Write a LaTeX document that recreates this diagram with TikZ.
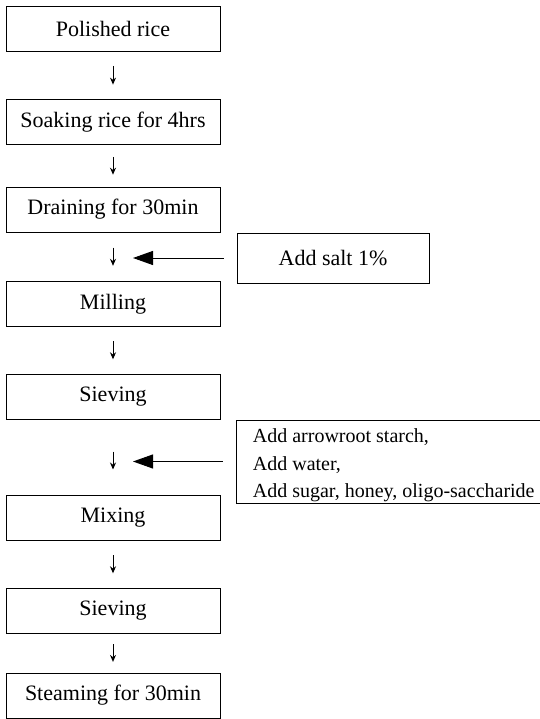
\documentclass[tikz,border=0pt]{standalone}
\usepackage{fontspec}
\setmainfont{Liberation Serif}
\usetikzlibrary{positioning,arrows.meta}

\begin{document}
\begin{tikzpicture}[
  proc/.style={rectangle, draw, line width=0.5pt, minimum width=107pt, minimum height=22.5pt, inner sep=0pt, align=center},
  addbox/.style={rectangle, draw, line width=0.5pt, anchor=north west, inner sep=0pt},
  down/.style={-{Stealth[length=3.5pt,width=3pt]}, line width=0.5pt, shorten <=#1, shorten >=#1},
  down/.default=7.2pt,
  feed/.style={-{Triangle[length=10pt,width=7pt]}, line width=0.5pt, shorten <=6.5pt},
  font=\fontsize{11}{13.75}\selectfont
]
\clip (0,0) rectangle (270pt,-359.5pt);

\node[proc] (rice) at (56.5pt,-14.25pt) {Polished rice};
\node[proc, below of=rice, node distance=46.75pt] (soak) {Soaking rice for 4hrs};
\node[proc, below of=soak, node distance=43.75pt] (drain) {Draining for 30min};
\node[proc, below of=drain, node distance=47.25pt] (mill) {Milling};
\node[proc, below of=mill, node distance=46.25pt] (sieve) {Sieving};
\node[proc, below of=sieve, node distance=60.75pt] (mix) {Mixing};
\node[proc, below of=mix, node distance=46.25pt] (sieve2) {Sieving};
\node[proc, below of=sieve2, node distance=42.5pt] (steam) {Steaming for 30min};

% ingredients added on the side
\node[addbox, minimum width=96pt, minimum height=25pt] (salt) at ([xshift=8pt]drain.south east) {Add salt 1\%};
\node[addbox, minimum width=175pt, minimum height=41.5pt] (add) at ([xshift=7.5pt]sieve.south east) {};
\node[anchor=north west, inner sep=0pt, align=left, font=\fontsize{10}{13.75}\selectfont] (addtext) at ([shift={(8.5pt,-4.6pt)}]add.north west) {Add arrowroot starch,\\Add water,\\Add sugar, honey, oligo-saccharide};

\draw[down] (rice) -- (soak);
\draw[down=5.9pt] (soak) -- (drain);
\draw[down=7.6pt] (drain) -- (mill);
\draw[down=7.1pt] (mill) -- (sieve);
\draw[down, shorten <=16pt, shorten >=12.75pt] (sieve) -- (mix);
\draw[down=7.1pt] (mix) -- (sieve2);
\draw[down=5.3pt] (sieve2) -- (steam);

\path (drain.south |- salt.west) ++(10pt,0) coordinate (salttip);
\path (sieve.south |- add.west) ++(10pt,0) coordinate (addtip);
\draw[feed] (salt) -- (salttip);
\draw[feed] (add) -- (addtip);
\end{tikzpicture}
\end{document}
